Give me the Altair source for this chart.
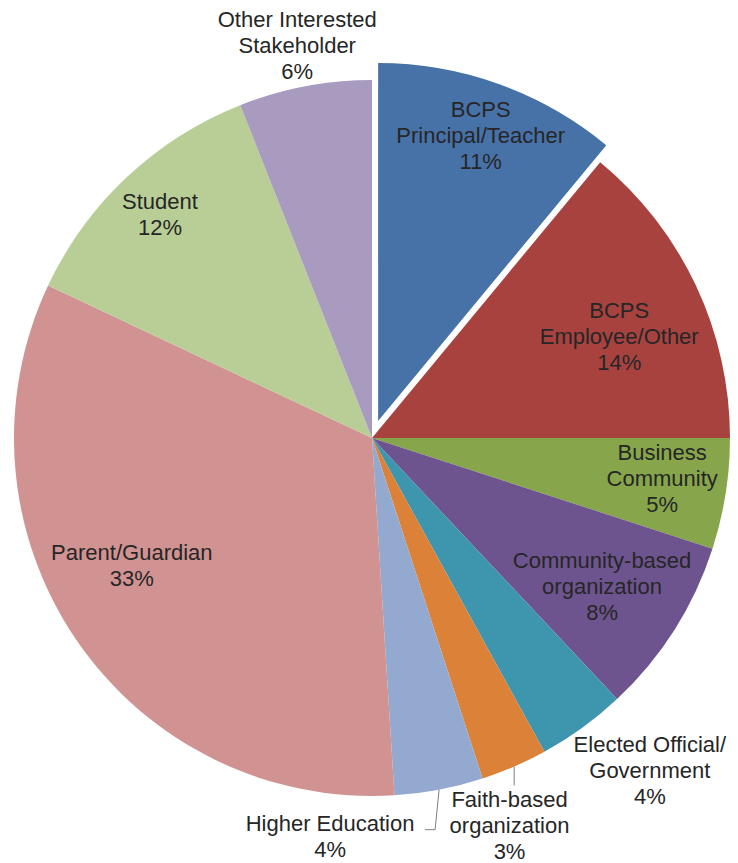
import altair as alt
import pandas as pd

# ---- data ----
categories = [
    "BCPS\nPrincipal/Teacher",
    "BCPS\nEmployee/Other",
    "Business\nCommunity",
    "Community-based\norganization",
    "Elected Official/\nGovernment",
    "Faith-based\norganization",
    "Higher Education",
    "Parent/Guardian",
    "Student",
    "Other Interested\nStakeholder",
]
percent = [11, 14, 5, 8, 4, 3, 4, 33, 12, 6]

# ---- styles / layout ----
colors = ["#4672A8", "#A8423F", "#87A54B", "#6E548F", "#3D96AE",
          "#DB8238", "#93A9D0", "#D19392", "#B9CE97", "#A99ABF"]
CX, CY, R = 364, 430, 358
LH = 26
explode = {"BCPS\nPrincipal/Teacher": 18}
# label block-centre radius (px) and angular shift (deg) from the slice's mid angle
label_layout = {
    "BCPS\nPrincipal/Teacher": (321, 0),
    "BCPS\nEmployee/Other": (267, 3),
    "Business\nCommunity": (293, -1),
    "Community-based\norganization": (274, 0.5),
    "Elected Official/\nGovernment": (434, -3.8),
    "Faith-based\norganization": (412, 3.9),
    "Higher Education": (401, 16.8),
    "Parent/Guardian": (272, 6.2),
    "Student": (308, -0.3),
    "Other Interested\nStakeholder": (399, 0),
}
# leader lines: (dx, dy) from slice edge to elbow, then horizontal dx
leaders = {
    "Faith-based\norganization": (0, 19, 0),
    "Higher Education": (-4, 40, -10),
}

df = pd.DataFrame({
    "category": categories,
    "pct": percent,
    "order": list(range(len(categories))),
    "ex": [explode.get(c, 0) for c in categories],
    "lr": [label_layout[c][0] for c in categories],
    "lshift": [label_layout[c][1] for c in categories],
    "lead": [1 if c in leaders else 0 for c in categories],
    "ldx": [leaders.get(c, (0, 0, 0))[0] for c in categories],
    "ldy": [leaders.get(c, (0, 0, 0))[1] for c in categories],
    "ldx2": [leaders.get(c, (0, 0, 0))[2] for c in categories],
})

base = alt.Chart(df).transform_window(
    cum="sum(pct)", sort=[{"field": "order"}], frame=[None, 0]
).transform_calculate(
    start="2*PI*(datum.cum - datum.pct)/100",
    end="2*PI*datum.cum/100",
).transform_calculate(
    mid="(datum.start + datum.end)/2",
).transform_calculate(
    ax=f"{CX} + datum.ex*sin(datum.mid)",
    ay=f"{CY} - datum.ex*cos(datum.mid)",
    la="datum.mid + datum.lshift*PI/180",
    sx=f"{CX} + {R}*sin(datum.mid)",
    sy=f"{CY} - {R}*cos(datum.mid)",
    label="datum.category + '\\n' + datum.pct + '%'",
).transform_calculate(
    nl="length(split(datum.label, '\\n'))",
    lx=f"{CX} + datum.lr*sin(datum.la)",
    mx="datum.sx + datum.ldx",
    my="datum.sy + datum.ldy",
).transform_calculate(
    ly=f"{CY} - datum.lr*cos(datum.la) - (datum.nl - 1)*{LH}/2",
    ex2="datum.mx + datum.ldx2",
)

arcs = base.mark_arc(outerRadius=R).encode(
    theta=alt.Theta("start:Q", scale=None, stack=None),
    theta2="end:Q",
    x=alt.X("ax:Q", scale=None, axis=None),
    y=alt.Y("ay:Q", scale=None, axis=None),
    color=alt.Color("category:N", scale=alt.Scale(domain=categories, range=colors), legend=None),
)

lead1 = base.transform_filter("datum.lead == 1").mark_rule(color="#7f7f7f", strokeWidth=1).encode(
    x=alt.X("sx:Q", scale=None, axis=None),
    y=alt.Y("sy:Q", scale=None, axis=None),
    x2="mx:Q",
    y2="my:Q",
)
lead2 = base.transform_filter("datum.lead == 1").mark_rule(color="#7f7f7f", strokeWidth=1).encode(
    x=alt.X("mx:Q", scale=None, axis=None),
    y=alt.Y("my:Q", scale=None, axis=None),
    x2="ex2:Q",
    y2="my:Q",
)

labels = base.mark_text(
    lineBreak="\n", font="Liberation Sans", fontSize=22, lineHeight=LH,
    color="#262626", align="center", baseline="middle",
).encode(
    x=alt.X("lx:Q", scale=None, axis=None),
    y=alt.Y("ly:Q", scale=None, axis=None),
    text="label:N",
)

chart = alt.layer(arcs, lead1, lead2, labels).properties(
    width=722, height=855, padding=0, autosize="none",
).configure_view(stroke=None)

chart.save("out.html", embed_options={"renderer": "svg", "actions": False})
